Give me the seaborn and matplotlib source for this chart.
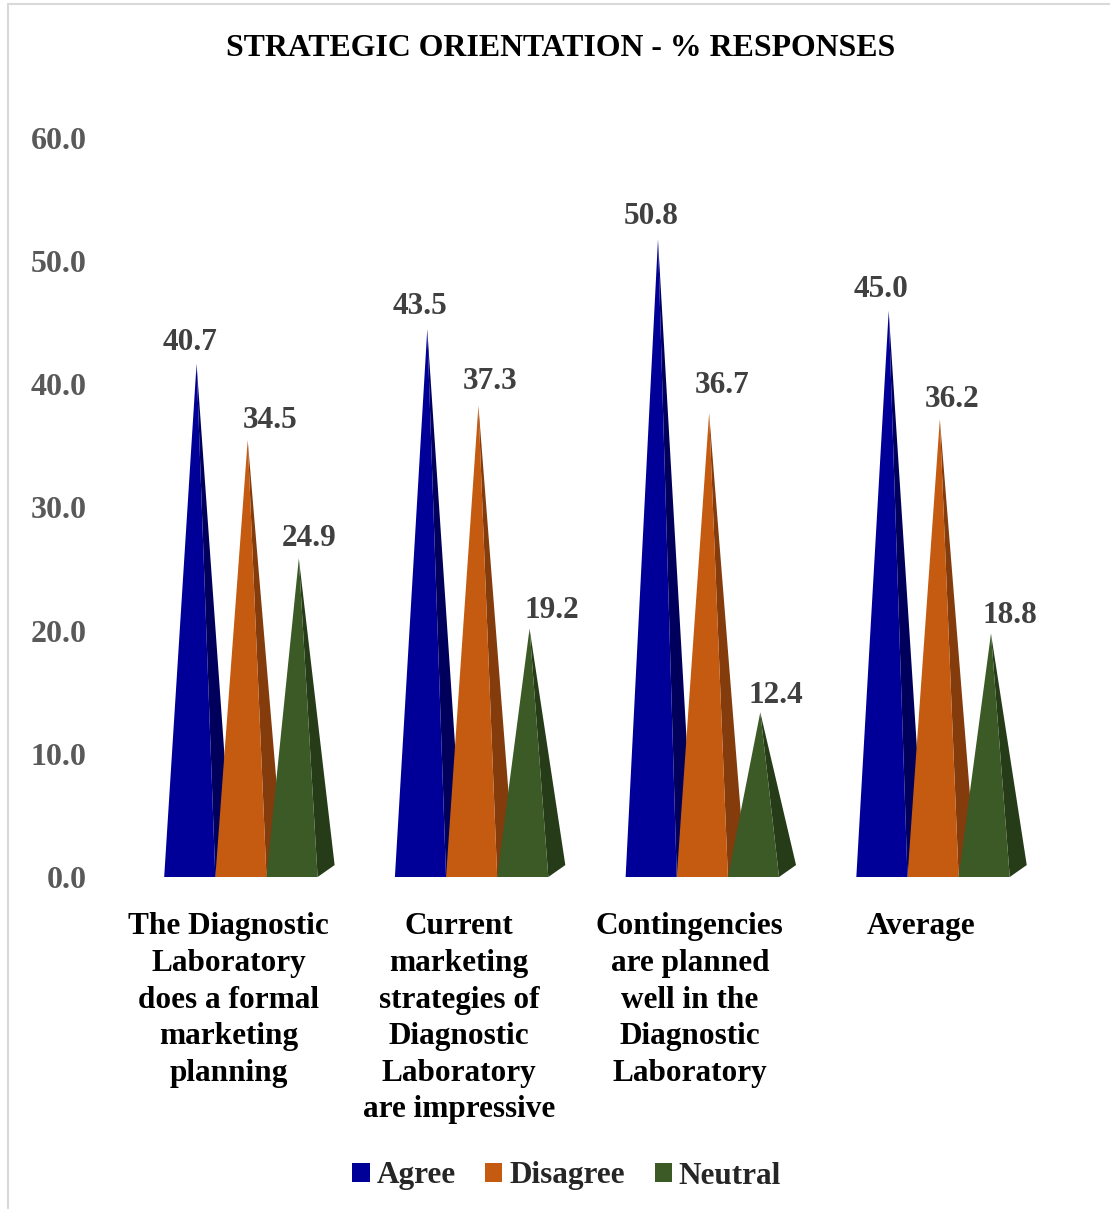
import matplotlib
matplotlib.use("Agg")
import matplotlib.pyplot as plt
from matplotlib.patches import Polygon, Patch
from matplotlib.lines import Line2D
import seaborn as sns
import pandas as pd

# ---- data ----
items = [
    "The Diagnostic\nLaboratory\ndoes a formal\nmarketing\nplanning",
    "Current\nmarketing\nstrategies of\nDiagnostic\nLaboratory\nare impressive",
    "Contingencies\nare planned\nwell in the\nDiagnostic\nLaboratory",
    "Average",
]
responses = ["Agree", "Disagree", "Neutral"]
agree = [40.7, 43.5, 50.8, 45.0]
disagree = [34.5, 37.3, 36.7, 36.2]
neutral = [24.9, 19.2, 12.4, 18.8]
y_ticks = [0, 10, 20, 30, 40, 50, 60]

front_colors = ["#000099", "#C55A11", "#3B5A26"]
side_colors = ["#00005C", "#843C0C", "#263C18"]

# value-label nudges in pixels (right, down), per response and item
label_dx = [[0.5, -0.5, -0.5, -1], [29, 19, 19.5, 19], [17, 29, 22.5, 26]]
label_dy = [[2, 0, 0, 2], [3, -1, -5, 3], [3, 5, 6, 5]]

df = pd.DataFrame({
    "item": items * 3,
    "pct": agree + disagree + neutral,
    "resp": [r for r in responses for _ in items],
})

sns.set_style("white")
plt.rcParams["font.family"] = ["Liberation Serif", "DejaVu Serif"]
plt.rcParams["font.weight"] = "bold"

fig = plt.figure(figsize=(11.1, 12.09), dpi=100)
ax = fig.add_axes([0.1131, 0.2746, 0.8314, 0.6113])

sns.barplot(data=df, x="item", y="pct", hue="resp", hue_order=responses,
            palette=front_colors, width=0.665, ax=ax, legend=False,
            errorbar=None)

ax.set_xlim(-0.5, len(items) - 0.5)
ax.set_ylim(0, 60)

# depth of the pseudo-3D pyramids, in data units
depth_x = 0.0737
depth_y = 0.97
px = 72 / fig.dpi  # points per pixel

for j, cont in enumerate(ax.containers):
    for i, bar in enumerate(cont):
        x0 = bar.get_x()
        w = bar.get_width()
        h = bar.get_height()
        bar.set_visible(False)
        x1 = x0 + w
        apex = (x0 + w / 2 + depth_x * 0.4, h + depth_y)
        side = Polygon([(x1, 0), (x1 + depth_x, depth_y), apex], closed=True,
                       facecolor=side_colors[j], edgecolor="none",
                       zorder=3 + j, clip_on=False)
        front = Polygon([(x0, 0), (x1, 0), apex], closed=True,
                        facecolor=front_colors[j], edgecolor="none",
                        zorder=3 + j, clip_on=False)
        ax.add_patch(side)
        ax.add_patch(front)
        ax.annotate(f"{h:.1f}", xy=(x0 + w / 2, h + depth_y),
                    xytext=(label_dx[j][i] * px, 11 - label_dy[j][i] * px),
                    textcoords="offset points",
                    ha="center", va="baseline", fontsize=22.5,
                    fontweight="bold", color="#404040", zorder=10)

# axis styling
label_shift = -0.054
ax.set_xticks([i + label_shift for i in range(len(items))])
ax.set_xticklabels(items, fontsize=22.5, fontweight="bold", color="black",
                   linespacing=1.345)
ax.set_yticks(y_ticks)
ax.set_yticklabels([f"{v:.1f}" for v in y_ticks], fontsize=23,
                   fontweight="bold", color="#595959")
ax.tick_params(axis="y", length=0, pad=28)
ax.tick_params(axis="x", length=0, pad=25.5)
ax.set_xlabel("")
ax.set_ylabel("")
for s in ax.spines.values():
    s.set_visible(False)
ax.grid(False)

fig.text(0.5054, 1 - 48 / 1209, "STRATEGIC ORIENTATION - % RESPONSES",
         ha="center", va="center", fontsize=22.9, fontweight="bold",
         color="black")

handles = [Patch(facecolor=c, edgecolor="none", label=r)
           for c, r in zip(front_colors, responses)]
fig.legend(handles=handles, loc="center", bbox_to_anchor=(0.5105, 1 - 1176 / 1209),
           ncol=3, frameon=False, handlelength=0.55, handleheight=0.55,
           handletextpad=0.22, columnspacing=0.95,
           prop={"family": "Liberation Serif", "weight": "bold", "size": 22.5})

# outer frame edges
fig.add_artist(Line2D([8 / 1110, 8 / 1110], [0, 1 - 4 / 1209],
                      color="#D9D9D9", lw=1.5, transform=fig.transFigure))
fig.add_artist(Line2D([8 / 1110, 1], [1 - 4 / 1209, 1 - 4 / 1209],
                      color="#D9D9D9", lw=1.5, transform=fig.transFigure))

fig.savefig("out.png", dpi=100, facecolor="white")
